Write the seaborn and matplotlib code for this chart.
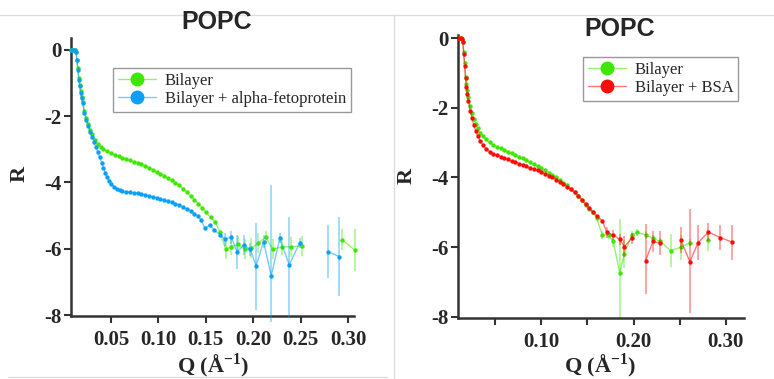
import numpy as np
import matplotlib
matplotlib.use("Agg")
import matplotlib.pyplot as plt
from matplotlib.lines import Line2D
import seaborn as sns

# -----------------------------
# Data
# -----------------------------
# left panel, Bilayer (green), smooth part
l_bil_q = [0.008, 0.010, 0.012, 0.013, 0.014, 0.015, 0.016, 0.017, 0.018, 0.019, 0.020,
           0.022, 0.024, 0.026, 0.028, 0.030, 0.033, 0.036, 0.039, 0.042, 0.046, 0.050,
           0.054, 0.058, 0.062, 0.066, 0.070, 0.074, 0.078, 0.082, 0.086, 0.090, 0.094,
           0.098, 0.102, 0.106, 0.110, 0.114, 0.118, 0.122, 0.126, 0.130, 0.134, 0.138,
           0.142, 0.146, 0.150, 0.155, 0.160, 0.165]
l_bil_r = [0, 0, 0, -0.05, -0.3, -0.55, -0.85, -1.05, -1.25, -1.42, -1.57,
           -1.83, -2.05, -2.25, -2.42, -2.55, -2.72, -2.85, -2.94, -3.0, -3.06, -3.11,
           -3.16, -3.21, -3.25, -3.29, -3.33, -3.37, -3.41, -3.45, -3.50, -3.56, -3.62,
           -3.68, -3.74, -3.80, -3.87, -3.94, -4.01, -4.09, -4.19, -4.29, -4.40, -4.52,
           -4.64, -4.76, -4.90, -5.05, -5.20, -5.50]
# noisy tail with error bars
l_bil_tq = [0.171, 0.177, 0.184, 0.191, 0.198, 0.205, 0.213, 0.221, 0.230, 0.240, 0.251, np.nan, 0.294, 0.307]
l_bil_tr = [-6.02, -5.94, -5.87, -6.02, -5.99, -5.84, -5.65, -6.02, -5.94, -5.94, -5.91, np.nan, -5.73, -6.04]
l_bil_te = [0.3, 0.25, 0.25, 0.3, 0.3, 0.3, 0.2, 0.3, 0.25, 0.3, 0.3, np.nan, 0.32, 0.63]

# left panel, Bilayer + alpha-fetoprotein (blue)
l_afp_q = [0.008, 0.010, 0.012, 0.013, 0.014, 0.015, 0.016, 0.017, 0.018, 0.019, 0.020,
           0.022, 0.024, 0.026, 0.028, 0.030, 0.032, 0.034, 0.036, 0.038, 0.040, 0.042,
           0.044, 0.046, 0.048, 0.050, 0.053, 0.056, 0.059, 0.062, 0.066, 0.070, 0.074,
           0.078, 0.082, 0.086, 0.090, 0.094, 0.098, 0.102, 0.106, 0.110, 0.114, 0.118,
           0.122, 0.126, 0.130, 0.134, 0.138, 0.142, 0.145, 0.149, 0.154, 0.159, 0.165]
l_afp_r = [0, 0, 0, -0.05, -0.3, -0.6, -0.9, -1.1, -1.3, -1.45, -1.6,
           -1.9, -2.12, -2.3, -2.47, -2.62, -2.78, -2.93, -3.08, -3.24, -3.40, -3.55,
           -3.70, -3.83, -3.95, -4.04, -4.13, -4.19, -4.24, -4.27, -4.29, -4.30, -4.31,
           -4.32, -4.34, -4.37, -4.41, -4.44, -4.47, -4.50, -4.53, -4.56, -4.60, -4.64,
           -4.69, -4.74, -4.80, -4.87, -4.94, -5.02, -5.13, -5.38, -5.28, -5.43, -5.58]
l_afp_tq = [0.170, 0.177, 0.183, 0.190, 0.197, 0.203, 0.211, 0.219, 0.228, 0.238, 0.249, np.nan, 0.279, 0.291]
l_afp_tr = [-5.71, -5.65, -6.10, -5.89, -6.02, -6.52, -5.79, -6.82, -5.69, -6.49, -5.82, np.nan, -6.09, -6.24]
l_afp_lo = [0.2, 0.2, 0.5, 0.3, 0.2, 1.33, 0.2, 1.4, 0.15, 1.6, 0.15, np.nan, 0.8, 1.2]
l_afp_hi = [0.2, 0.2, 0.5, 0.3, 0.2, 1.31, 0.2, 2.75, 0.15, 1.46, 0.15, np.nan, 0.8, 1.19]

# right panel, Bilayer (green)
r_bil_q = [0.009, 0.011, 0.013, 0.014, 0.015, 0.016, 0.017, 0.018, 0.019, 0.020, 0.021,
           0.023, 0.025, 0.027, 0.029, 0.031, 0.034, 0.037, 0.040, 0.044, 0.048, 0.052,
           0.056, 0.060, 0.064, 0.068, 0.072, 0.076, 0.080, 0.084, 0.088, 0.092, 0.096,
           0.100, 0.104, 0.108, 0.112, 0.116, 0.120, 0.124, 0.128, 0.132, 0.136, 0.140,
           0.144, 0.148, 0.152, 0.156, 0.160]
r_bil_r = [0, 0, 0, -0.02, -0.1, -0.4, -0.7, -1.1, -1.3, -1.5, -1.7,
           -1.95, -2.15, -2.32, -2.46, -2.57, -2.72, -2.82, -2.90, -2.99, -3.06, -3.12,
           -3.16, -3.21, -3.26, -3.31, -3.35, -3.40, -3.45, -3.50, -3.56, -3.62, -3.68,
           -3.74, -3.80, -3.86, -3.92, -3.99, -4.07, -4.15, -4.23, -4.32, -4.42, -4.53,
           -4.65, -4.78, -4.90, -5.00, -5.17]
r_bil_tq = [0.166, 0.173, 0.178, 0.185, 0.190, 0.198, 0.204, 0.213, 0.221, 0.229, 0.240, 0.251, 0.261, np.nan, 0.281]
r_bil_tr = [-5.65, -5.65, -5.84, -6.75, -6.20, -5.65, -5.58, -5.65, -5.75, -5.84, -6.10, -6.01, -5.87, np.nan, -5.81]
r_bil_lo = [0.12, 0.12, 0.15, 1.4, 0.4, 0.12, 0.1, 0.12, 0.1, 0.1, 0.47, 0.35, 0.1, np.nan, 0.3]
r_bil_hi = [0.12, 0.12, 0.15, 1.55, 0.4, 0.12, 0.1, 0.12, 0.1, 0.1, 0.47, 0.35, 0.1, np.nan, 0.3]

# right panel, Bilayer + BSA (red)
r_bsa_q = [0.009, 0.011, 0.013, 0.014, 0.015, 0.016, 0.017, 0.018, 0.019, 0.020, 0.021,
           0.023, 0.025, 0.027, 0.029, 0.031, 0.034, 0.037, 0.040, 0.044, 0.048, 0.052,
           0.056, 0.060, 0.064, 0.068, 0.072, 0.076, 0.080, 0.084, 0.088, 0.092, 0.096,
           0.100, 0.104, 0.108, 0.112, 0.116, 0.120, 0.124, 0.128, 0.132, 0.136, 0.140,
           0.144, 0.148, 0.152, 0.156, 0.160, 0.166]
r_bsa_r = [0, 0, 0, -0.02, -0.1, -0.45, -0.8, -1.15, -1.4, -1.6, -1.8,
           -2.08, -2.3, -2.5, -2.66, -2.8, -2.96, -3.08, -3.17, -3.26, -3.32, -3.36,
           -3.40, -3.44, -3.48, -3.52, -3.56, -3.60, -3.64, -3.68, -3.72, -3.76, -3.80,
           -3.85, -3.90, -3.95, -4.00, -4.06, -4.12, -4.19, -4.26, -4.34, -4.43, -4.53,
           -4.64, -4.76, -4.88, -4.99, -5.10, -5.24]
r_bsa_tq = [0.171, 0.178, 0.185, 0.190, 0.198, np.nan, 0.213, 0.221, 0.229, np.nan, 0.251, 0.261, 0.270, 0.281, 0.294, 0.307]
r_bsa_tr = [-5.58, -5.65, -5.78, -5.99, -5.75, np.nan, -6.39, -5.84, -5.89, np.nan, -5.80, -6.42, -5.87, -5.57, -5.73, -5.86]
r_bsa_lo = [0.15, 0.15, 0.15, 0.3, 0.15, np.nan, 0.95, 0.3, 0.35, np.nan, 0.38, 1.48, 0.5, 0.25, 0.35, 0.5]
r_bsa_hi = [0.15, 0.15, 0.15, 0.3, 0.15, np.nan, 1.05, 0.3, 0.35, np.nan, 0.38, 1.51, 0.5, 0.25, 0.35, 0.5]

GREEN = "#3de800"
BLUE = "#0aa0f5"
RED = "#ff0a0a"
AXIS = "#333333"

# -----------------------------
# Style
# -----------------------------
sns.set_theme(style="ticks")
plt.rcParams["font.family"] = ["Liberation Serif", "DejaVu Serif"]
plt.rcParams["mathtext.fontset"] = "custom"
plt.rcParams["mathtext.rm"] = "Liberation Serif:bold"
plt.rcParams["mathtext.bf"] = "Liberation Serif:bold"

W, H = 774, 379
fig = plt.figure(figsize=(W / 100, H / 100), dpi=100)


def px_axes(x0, x1, ytop, ybot):
    return fig.add_axes([x0 / W, 1 - ybot / H, (x1 - x0) / W, (ybot - ytop) / H])


def draw_series(ax, q, r, tq, tr, lo, hi, color, z):
    qq = list(q) + list(tq)
    rr = list(r) + list(tr)
    ax.plot(qq, rr, color=color, alpha=0.55, lw=1.0, zorder=z)
    ax.errorbar(tq, tr, yerr=[lo, hi], fmt="none", ecolor=color, alpha=0.4,
                elinewidth=1.3, capsize=0, zorder=z)
    sns.scatterplot(x=qq, y=rr, ax=ax, color=color, s=10, linewidth=0,
                    zorder=z + 1, legend=False)


def style_axes(ax):
    sns.despine(ax=ax)
    for s in ["left", "bottom"]:
        ax.spines[s].set_linewidth(1.8)
        ax.spines[s].set_color(AXIS)
    ax.tick_params(axis="both", which="both", direction="out", length=5, width=1.5,
                   color=AXIS, labelsize=15)
    ax.tick_params(axis="x", which="both", pad=5)
    ax.tick_params(axis="y", pad=2)
    ax.set_yticks([0, -2, -4, -6, -8])
    ax.set_yticklabels(["0", "-2", "-4", "-6", "-8"])
    for lab in ax.get_xticklabels() + ax.get_yticklabels():
        lab.set_fontweight("bold")
    ax.set_xlabel("")
    ax.set_ylabel("")
    ax.set_facecolor("white")


# -----------------------------
# Left panel
# -----------------------------
ax1 = px_axes(71, 354, 38, 316)
draw_series(ax1, l_bil_q, l_bil_r, l_bil_tq, l_bil_tr, l_bil_te, l_bil_te, GREEN, 2)
draw_series(ax1, l_afp_q, l_afp_r, l_afp_tq, l_afp_tr, l_afp_lo, l_afp_hi, BLUE, 4)
ax1.set_xlim(0.0078, 0.3063)
ax1.set_ylim(-8.03, 0.36)
ax1.set_xticks([0.05, 0.10, 0.15, 0.20, 0.25, 0.30])
ax1.set_xticklabels(["0.05", "0.10", "0.15", "0.20", "0.25", "0.30"])
style_axes(ax1)
for art in ax1.lines + ax1.collections:
    art.set_clip_on(False)

# -----------------------------
# Right panel
# -----------------------------
ax2 = px_axes(458, 744, 35, 318)
draw_series(ax2, r_bil_q, r_bil_r, r_bil_tq, r_bil_tr, r_bil_lo, r_bil_hi, GREEN, 2)
draw_series(ax2, r_bsa_q, r_bsa_r, r_bsa_tq, r_bsa_tr, r_bsa_lo, r_bsa_hi, RED, 4)
ax2.set_xlim(0.0098, 0.3196)
ax2.set_ylim(-8.04, 0.095)
ax2.set_xticks([0.10, 0.20, 0.30])
ax2.set_xticklabels(["0.10", "0.20", "0.30"])
ax2.set_xticks([0.05, 0.15, 0.25], minor=True)
style_axes(ax2)

# -----------------------------
# Legends
# -----------------------------
def make_legend(labels, colors, x, y):
    handles = []
    for c in colors:
        ln = Line2D([0], [0], color=c, lw=1.0, alpha=0.55)
        mk = Line2D([0], [0], ls="none", marker="o", markersize=9,
                    markerfacecolor=c, markeredgecolor=c)
        handles.append((ln, mk))
    leg = fig.legend(handles, labels, loc="upper left",
                     bbox_to_anchor=(x / W, 1 - y / H),
                     frameon=True, fancybox=False, framealpha=1, edgecolor="#999999",
                     prop={"family": "Liberation Serif", "size": 12},
                     handlelength=2.3, handletextpad=0.5, borderpad=0.3,
                     labelspacing=0.1, borderaxespad=0)
    leg.get_frame().set_linewidth(1.0)
    return leg

make_legend(["Bilayer", "Bilayer + alpha-fetoprotein"], [GREEN, BLUE], 113, 68)
make_legend(["Bilayer", "Bilayer + BSA"], [GREEN, RED], 583, 57)

# -----------------------------
# Titles and axis labels
# -----------------------------
title_font = {"family": "Liberation Sans", "weight": "bold", "size": 18}
fig.text(217 / W, 1 - 22 / H, "POPC", ha="center", va="center", fontdict=title_font)
fig.text(620 / W, 1 - 29 / H, "POPC", ha="center", va="center", fontdict=title_font)

lab_font = {"family": "Liberation Serif", "weight": "bold", "size": 16}
fig.text(20 / W, 1 - 174 / H, "R", rotation=90, ha="center", va="center", fontdict=lab_font)
fig.text(407 / W, 1 - 176 / H, "R", rotation=90, ha="center", va="center", fontdict=lab_font)
xlab = r"Q (Å$^{\mathbf{-1}}$)"
fig.text(213 / W, 1 - 366 / H, xlab, ha="center", va="center", fontdict=lab_font)
fig.text(600 / W, 1 - 366 / H, xlab, ha="center", va="center", fontdict=lab_font)

# screenshot frame lines
frame = dict(color="#dddddd", lw=1.0, transform=fig.transFigure)
fig.add_artist(Line2D([0, 1], [1 - 15 / H] * 2, **frame))
fig.add_artist(Line2D([8 / W, 387 / W], [1 - 377 / H] * 2, **frame))
fig.add_artist(Line2D([394 / W] * 2, [0, 1 - 15 / H], **frame))

fig.savefig("out.png", dpi=100, facecolor="white")
